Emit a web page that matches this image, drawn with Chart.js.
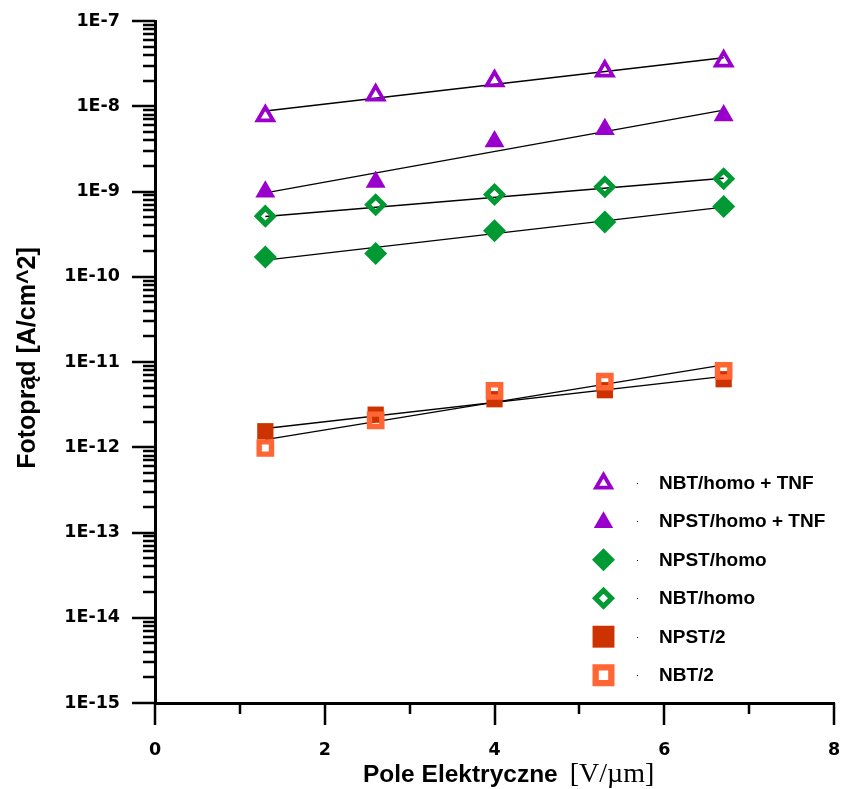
<!DOCTYPE html>
<html>
<head>
<meta charset="utf-8">
<script src="https://cdn.jsdelivr.net/npm/chart.js@4.4.0/dist/chart.umd.min.js"></script>
<style>
  html, body { margin: 0; padding: 0; background: #fff; }
</style>
</head>
<body>
<canvas id="chart" width="844" height="789"></canvas>
<script>
// electric field [V/um]
const fieldX = [1.3, 2.6, 4.0, 5.3, 6.7];

// photocurrent [A/cm^2]
const nbtHomoTnf = [7.7e-9, 1.35e-8, 1.98e-8, 2.58e-8, 3.38e-8];
const npstHomoTnf = [9.9e-10, 1.29e-9, 3.85e-9, 5.37e-9, 7.78e-9];
const npstHomo = [1.70e-10, 1.87e-10, 3.46e-10, 4.38e-10, 6.67e-10];
const nbtHomo = [5.14e-10, 6.98e-10, 9.23e-10, 1.135e-9, 1.41e-9];
const npst2 = [1.54e-12, 2.41e-12, 3.66e-12, 4.67e-12, 6.28e-12];
const nbt2 = [9.8e-13, 2.07e-12, 4.58e-12, 5.89e-12, 7.87e-12];

// fitted lines, start and end
const fitX = [1.3, 6.7];
const fitNbtHomoTnf = [8.78e-9, 3.71e-8];
const fitNpstHomoTnf = [9.65e-10, 9.0e-9];
const fitNpstHomo = [1.566e-10, 6.56e-10];
const fitNbtHomo = [5.09e-10, 1.428e-9];
const fitNpst2 = [1.66e-12, 6.78e-12];
const fitNbt2 = [1.23e-12, 9.25e-12];

const xTicks = [0, 1, 2, 3, 4, 5, 6, 7, 8];
const xTickLabels = ['0', '', '2', '', '4', '', '6', '', '8'];
const yExponents = [-15, -14, -13, -12, -11, -10, -9, -8, -7];
const yTickLabels = ['1E-15', '1E-14', '1E-13', '1E-12', '1E-11', '1E-10', '1E-9', '1E-8', '1E-7'];
const minorMantissas = [2, 3, 4, 5, 6, 7, 8, 9];

const PURPLE = '#9900CC';
const GREEN = '#009933';
const RUST = '#CC3300';
const ORANGE = '#FF6633';
const NONE = 'rgba(0,0,0,0)';

const pts = (xs, ys) => xs.map((x, i) => ({ x: x, y: ys[i] }));

function markers(label, ys, style, color, open, radius, bw, legendRadius, legendBw, order) {
  return {
    type: 'scatter',
    label: label,
    data: pts(fieldX, ys),
    pointStyle: style,
    pointRadius: radius,
    pointBorderWidth: open ? bw : 0,
    pointBorderColor: color,
    pointBackgroundColor: open ? NONE : color,
    showLine: false,
    order: order,
    legendRadius: legendRadius,
    legendBw: legendBw,
    open: open
  };
}

function fit(ys) {
  return {
    type: 'line',
    data: pts(fitX, ys),
    borderColor: '#000',
    borderWidth: 1.4,
    pointRadius: 0,
    fill: false,
    order: 5
  };
}

const markerSets = [
  markers('NBT/homo + TNF', nbtHomoTnf, 'triangle', PURPLE, true, 9, 3.8, 8.6, 3.8, 1),
  markers('NPST/homo + TNF', npstHomoTnf, 'triangle', PURPLE, false, 11.5, 0, 11.2, 0, 1),
  markers('NPST/homo', npstHomo, 'rectRot', GREEN, false, 11.5, 0, 11.5, 0, 1),
  markers('NBT/homo', nbtHomo, 'rectRot', GREEN, true, 8, 5, 8, 5, 1),
  markers('NPST/2', npst2, 'rect', RUST, false, 11.5, 0, 15.5, 0, 1),
  markers('NBT/2', nbt2, 'rect', ORANGE, true, 8.7, 5.4, 11.1, 6.3, 0)
];

const fitSets = [fitNbtHomoTnf, fitNpstHomoTnf, fitNpstHomo, fitNbtHomo, fitNpst2, fitNbt2].map(fit);

const tickFont = { family: '"DejaVu Sans", Verdana, sans-serif', size: 17.5, weight: 'bold' };

function isDecade(v) {
  const e = Math.log10(v);
  return Math.abs(e - Math.round(e)) < 1e-9;
}

// keep the plot box fixed: no extra room for label overhang
function noOverhang(s) {
  s.paddingTop = 0;
  s.paddingBottom = 0;
  s.paddingLeft = 0;
  s.paddingRight = 0;
}

// axis tick marks: long on majors, short on minors
const tickMarks = {
  id: 'tickMarks',
  afterDraw(chart) {
    const { ctx } = chart;
    const x = chart.scales.x, y = chart.scales.y;
    ctx.save();
    ctx.strokeStyle = '#000';
    ctx.lineWidth = 2.5;
    ctx.beginPath();
    y.ticks.forEach(t => {
      const py = Math.round(y.getPixelForValue(t.value));
      const len = isDecade(t.value) ? 23 : 12;
      ctx.moveTo(y.right - len, py);
      ctx.lineTo(y.right, py);
    });
    x.ticks.forEach(t => {
      const px = Math.round(x.getPixelForValue(t.value));
      const len = t.value % 2 === 0 ? 22 : 11;
      ctx.moveTo(px, x.top);
      ctx.lineTo(px, x.top + len);
    });
    ctx.stroke();
    ctx.restore();
  }
};

// axis titles (the unit part of the x title is set in a serif face)
const axisTitles = {
  id: 'axisTitles',
  afterDraw(chart) {
    const { ctx, chartArea } = chart;
    ctx.save();
    ctx.fillStyle = '#000';
    ctx.textBaseline = 'alphabetic';
    ctx.textAlign = 'left';
    const baseY = chartArea.bottom + 79;
    const part1 = 'Pole Elektryczne';
    const part2 = '[V/\u00b5m]';
    const sansTitle = 'bold 24.5px "Liberation Sans", Arial, sans-serif';
    const serifTitle = '28px "Liberation Serif", "Times New Roman", serif';
    ctx.font = sansTitle;
    const w1 = ctx.measureText(part1).width;
    const startX = 363;
    ctx.fillText(part1, startX, baseY);
    ctx.font = serifTitle;
    ctx.fillText(part2, startX + w1 + 12, baseY);

    ctx.translate(35, 358);
    ctx.rotate(-Math.PI / 2);
    ctx.textAlign = 'center';
    ctx.font = 'bold 25px "Liberation Sans", Arial, sans-serif';
    ctx.fillText('Fotopr\u0105d [A/cm^2]', 0, 0);
    ctx.restore();
  }
};

// legend inside the plot area, lower right
const innerLegend = {
  id: 'innerLegend',
  afterDraw(chart) {
    const { ctx } = chart;
    const top = 482.7, step = 38.5;
    const markX = 603.5, dotX = 637, textX = 659;
    ctx.save();
    markerSets.forEach((ds, i) => {
      const cy = top + i * step;
      const r = ds.legendRadius;
      let py = cy;
      if (ds.pointStyle === 'triangle') py = cy + r / 4 - 1.5;
      ctx.fillStyle = ds.pointBackgroundColor;
      ctx.strokeStyle = ds.pointBorderColor;
      ctx.lineWidth = ds.legendBw;
      ctx.lineJoin = 'miter';
      Chart.helpers.drawPoint(ctx, {
        pointStyle: ds.pointStyle,
        radius: r,
        rotation: 0,
        borderWidth: ds.open ? ds.legendBw : 0
      }, markX, py);
      ctx.fillStyle = '#000';
      ctx.fillRect(dotX, Math.round(cy), 1, 1);
      ctx.font = 'bold 19px "Liberation Sans", Arial, sans-serif';
      ctx.textBaseline = 'middle';
      ctx.textAlign = 'left';
      ctx.fillText(ds.label, textX, cy + 1);
    });
    ctx.restore();
  }
};

new Chart(document.getElementById('chart'), {
  type: 'scatter',
  data: { datasets: markerSets.concat(fitSets) },
  options: {
    responsive: false,
    animation: false,
    events: [],
    layout: { autoPadding: false, padding: { top: 21, right: 10, left: 0, bottom: 0 } },
    plugins: { legend: { display: false }, tooltip: { enabled: false } },
    scales: {
      x: {
        type: 'linear',
        min: 0,
        max: 8,
        afterBuildTicks: s => { s.ticks = xTicks.map(v => ({ value: v })); },
        afterFit: s => { s.height = 86; noOverhang(s); },
        ticks: {
          autoSkip: false,
          maxRotation: 0,
          padding: 37,
          color: '#000',
          font: tickFont,
          callback: (v, i) => xTickLabels[i]
        },
        grid: { display: false, drawTicks: false },
        border: { display: true, color: '#000', width: 3 }
      },
      y: {
        type: 'logarithmic',
        min: 1e-15,
        max: 1e-7,
        afterBuildTicks: s => {
          const t = [];
          yExponents.forEach((e, i) => {
            t.push({ value: Math.pow(10, e) });
            if (i < yExponents.length - 1) {
              minorMantissas.forEach(m => t.push({ value: m * Math.pow(10, e) }));
            }
          });
          s.ticks = t;
        },
        afterFit: s => { s.width = 155; noOverhang(s); },
        ticks: {
          autoSkip: false,
          padding: 35,
          color: '#000',
          font: tickFont,
          callback: v => {
            if (!isDecade(v)) return '';
            return yTickLabels[yExponents.indexOf(Math.round(Math.log10(v)))];
          }
        },
        grid: { display: false, drawTicks: false },
        border: { display: true, color: '#000', width: 3 }
      }
    }
  },
  plugins: [tickMarks, axisTitles, innerLegend]
});
</script>
</body>
</html>
